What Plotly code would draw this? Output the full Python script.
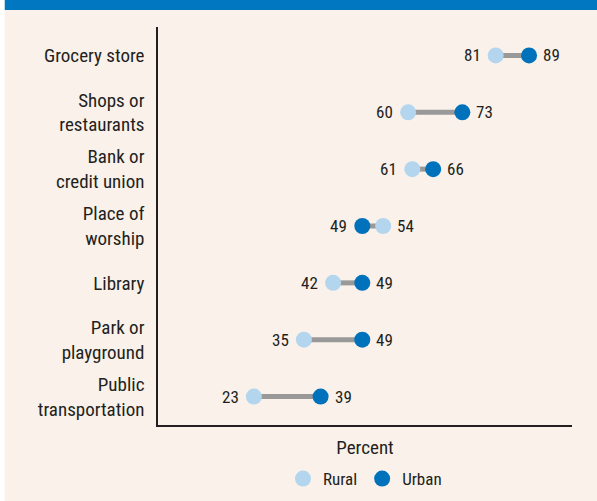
import plotly.graph_objects as go

categories = ["Grocery store", "Shops or<br>restaurants", "Bank or<br>credit union",
              "Place of<br>worship", "Library", "Park or<br>playground", "Public<br>transportation"]
rural = [81, 60, 61, 54, 42, 35, 23]
urban = [89, 73, 66, 49, 49, 49, 39]

W, H = 597, 501
L, R, T = 158, 25, 27
AXIS_BOTTOM = 425
PW, PH = W - L - R, H - T

def px_x(x):
    return (x - L) / PW

def px_y(y):
    return (H - y) / PH

FONT = "Roboto Condensed, Liberation Sans Narrow, Arial Narrow, sans-serif"
TXT = "#231f20"
RURAL_C = "#b3d5ee"
URBAN_C = "#0072bc"
BG = "#f9f1ea"

fig = go.Figure()

# connecting segments
lx, ly = [], []
for c, r, u in zip(categories, rural, urban):
    lx += [r, u, None]
    ly += [c, c, None]
fig.add_trace(go.Scatter(x=lx, y=ly, mode="lines", line=dict(color="#999999", width=5),
                         showlegend=False, hoverinfo="skip"))
fig.add_trace(go.Scatter(x=rural, y=categories, mode="markers", name="Rural",
                         marker=dict(color=RURAL_C, size=16)))
fig.add_trace(go.Scatter(x=urban, y=categories, mode="markers", name="Urban",
                         marker=dict(color=URBAN_C, size=16)))

ann = []
for c, r, u in zip(categories, rural, urban):
    lo, hi = min(r, u), max(r, u)
    ann.append(dict(x=lo, y=c, text=str(lo), showarrow=False, xanchor="right", xshift=-13,
                    font=dict(size=17, color=TXT, family=FONT)))
    ann.append(dict(x=hi, y=c, text=str(hi), showarrow=False, xanchor="left", xshift=12,
                    font=dict(size=17, color=TXT, family=FONT)))

shapes = [
    dict(type="rect", xref="paper", yref="paper", x0=px_x(4.5), x1=px_x(W + 5),
         y0=px_y(10), y1=px_y(-5), fillcolor="#0077c0", line=dict(width=0), layer="below"),
    dict(type="rect", xref="paper", yref="paper", x0=px_x(-5), x1=px_x(4.5),
         y0=px_y(H + 5), y1=px_y(-5), fillcolor="white", line=dict(width=0), layer="below"),
]

fig.update_layout(
    width=W, height=H,
    margin=dict(l=L, r=R, t=T, b=0, pad=0),
    paper_bgcolor=BG, plot_bgcolor=BG,
    font=dict(family=FONT, color=TXT, size=18),
    showlegend=True,
    legend=dict(orientation="h", x=0.5, xanchor="center", y=px_y(479), yanchor="middle",
                font=dict(size=17, family=FONT, color=TXT), bgcolor="rgba(0,0,0,0)",
                itemwidth=30, traceorder="normal"),
    annotations=ann,
    shapes=shapes,
    xaxis=dict(range=[0, 99.3], showgrid=False, zeroline=False, showticklabels=False,
               ticks="", showline=True, linecolor="#231f20", linewidth=1.5, automargin=False,
               title=dict(text="Percent", standoff=15, font=dict(size=19, family=FONT, color=TXT)),
               fixedrange=True),
    yaxis=dict(categoryorder="array", categoryarray=categories, range=[6.5, -0.5],
               domain=[px_y(AXIS_BOTTOM), 1], automargin=False,
               showgrid=False, zeroline=False, ticks="", showline=True,
               linecolor="#231f20", linewidth=1.5, ticklabelstandoff=8,
               tickfont=dict(size=19, family=FONT, color=TXT), fixedrange=True),
)

fig.write_html("out.html", config={"displayModeBar": False},
               post_script="document.body.style.margin='0';document.body.style.padding='0';")
